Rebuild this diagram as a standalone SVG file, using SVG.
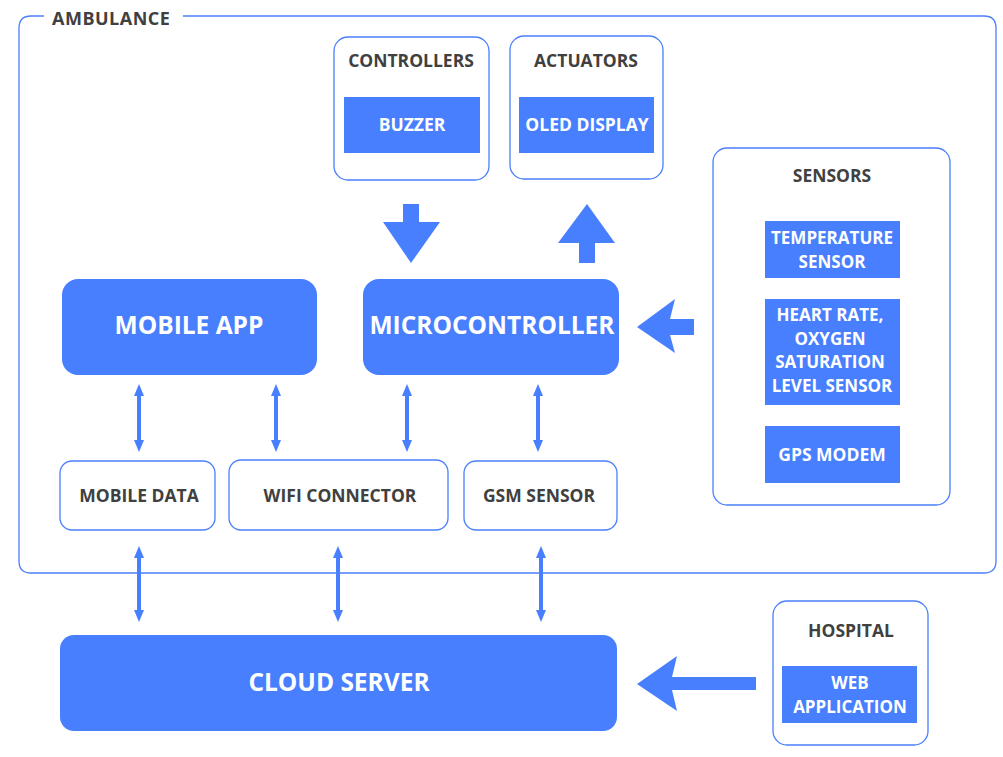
<svg xmlns="http://www.w3.org/2000/svg" width="1003" height="757" viewBox="0 0 1003 757">
<defs>
<style>
.frame{fill:#fff;stroke:#4a7ffe;stroke-width:1.3}
.blk{fill:#487ffe}
.t{font-family:"Open Sans","Noto Sans","DejaVu Sans",sans-serif;font-weight:700;text-anchor:middle}
.dk{fill:#404040;font-size:17.5px}
.wt{fill:#fff;font-size:17.5px}
.ml{font-size:17px}
.big{fill:#fff;font-size:24.5px}
.arr{fill:#487ffe}
.bd{stroke:#487ffe;stroke-width:4;fill:none;marker-start:url(#h);marker-end:url(#h)}
</style>
<marker id="h" viewBox="0 0 12 10" refX="6" refY="5" markerWidth="3" markerHeight="2.5" orient="auto-start-reverse" markerUnits="strokeWidth">
<path d="M0,0 L12,5 L0,10 z" fill="#487ffe"/>
</marker>
</defs>
<rect width="1003" height="757" fill="#fff"/>

<g id="ambulance">
<path class="frame" d="M44,16 L31,16 Q19,16 19,28 L19,561 Q19,573 31,573 L984,573 Q996,573 996,561 L996,28 Q996,16 984,16 L183,16" style="fill:none"/>
<text class="t dk" x="52" y="25" style="text-anchor:start;font-size:18px;letter-spacing:0.5px">AMBULANCE</text>
</g>

<g id="controllers">
<rect class="frame" x="334" y="37" width="155" height="143" rx="14"/>
<text class="t dk" x="411" y="66.5">CONTROLLERS</text>
<rect class="blk" x="344" y="97" width="136" height="56"/>
<text class="t wt" x="412" y="130.5">BUZZER</text>
</g>

<g id="actuators">
<rect class="frame" x="510" y="36" width="153" height="143" rx="14"/>
<text class="t dk" x="586" y="66.5">ACTUATORS</text>
<rect class="blk" x="519" y="97" width="135" height="56"/>
<text class="t wt" x="587" y="130.5">OLED DISPLAY</text>
</g>

<g id="sensors">
<rect class="frame" x="713" y="148" width="237" height="357" rx="14"/>
<text class="t dk" x="832" y="181.5">SENSORS</text>
<rect class="blk" x="765" y="221" width="135" height="57"/>
<text class="t wt ml" x="832" y="244"><tspan x="832" y="244">TEMPERATURE</tspan><tspan x="832" y="267.5">SENSOR</tspan></text>
<rect class="blk" x="765" y="299" width="135" height="106"/>
<text class="t wt ml" x="830" y="321"><tspan x="830" y="321">HEART RATE,</tspan><tspan x="830" y="344.5">OXYGEN</tspan><tspan x="830" y="368">SATURATION</tspan><tspan x="832" y="391.5">LEVEL SENSOR</tspan></text>
<rect class="blk" x="765" y="426" width="135" height="57"/>
<text class="t wt" x="832" y="460.5">GPS MODEM</text>
</g>

<g id="mobile-app">
<rect class="blk" x="62" y="279" width="255" height="96" rx="16"/>
<text class="t big" x="189" y="334">MOBILE APP</text>
</g>

<g id="microcontroller">
<rect class="blk" x="363" y="279" width="256" height="96" rx="16"/>
<text class="t big" x="492" y="334">MICROCONTROLLER</text>
</g>

<g id="mobile-data">
<rect class="frame" x="60" y="461" width="155" height="69" rx="12"/>
<text class="t dk" x="139" y="501.5">MOBILE DATA</text>
</g>

<g id="wifi-connector">
<rect class="frame" x="229" y="460" width="219" height="70" rx="12"/>
<text class="t dk" x="340" y="501.5">WIFI CONNECTOR</text>
</g>

<g id="gsm-sensor">
<rect class="frame" x="464" y="461" width="153" height="69" rx="12"/>
<text class="t dk" x="539" y="501.5">GSM SENSOR</text>
</g>

<g id="cloud-server">
<rect class="blk" x="60" y="635" width="557" height="96" rx="14"/>
<text class="t big" x="339" y="691">CLOUD SERVER</text>
</g>

<g id="hospital">
<rect class="frame" x="773" y="601" width="155" height="144" rx="14"/>
<text class="t dk" x="851" y="636.5">HOSPITAL</text>
<rect class="blk" x="782" y="666" width="135" height="57"/>
<text class="t wt ml" x="850" y="689"><tspan x="850" y="689">WEB</tspan><tspan x="850" y="712.5">APPLICATION</tspan></text>
</g>

<g id="connectors">
<path class="arr" d="M403,204 L419,204 L419,222 L440,222 L411,263 L383,222 L403,222 Z"/>
<path class="arr" d="M579,263 L595,263 L595,243 L615,243 L587,204 L558,243 L579,243 Z"/>
<path class="arr" d="M694,319 L694,335 L670,335 L675,353 L637,327 L675,299 L670,319 Z"/>
<path class="arr" d="M756,677 L756,690 L672,690 L677,711 L637,684 L677,656 L672,677 Z"/>
<line class="bd" x1="139" y1="390" x2="139" y2="446"/>
<line class="bd" x1="276" y1="390" x2="276" y2="446"/>
<line class="bd" x1="407" y1="390" x2="407" y2="446"/>
<line class="bd" x1="538" y1="390" x2="538" y2="446"/>
<line class="bd" x1="139" y1="552" x2="139" y2="616"/>
<line class="bd" x1="338" y1="552" x2="338" y2="616"/>
<line class="bd" x1="541" y1="552" x2="541" y2="616"/>
</g>
</svg>
